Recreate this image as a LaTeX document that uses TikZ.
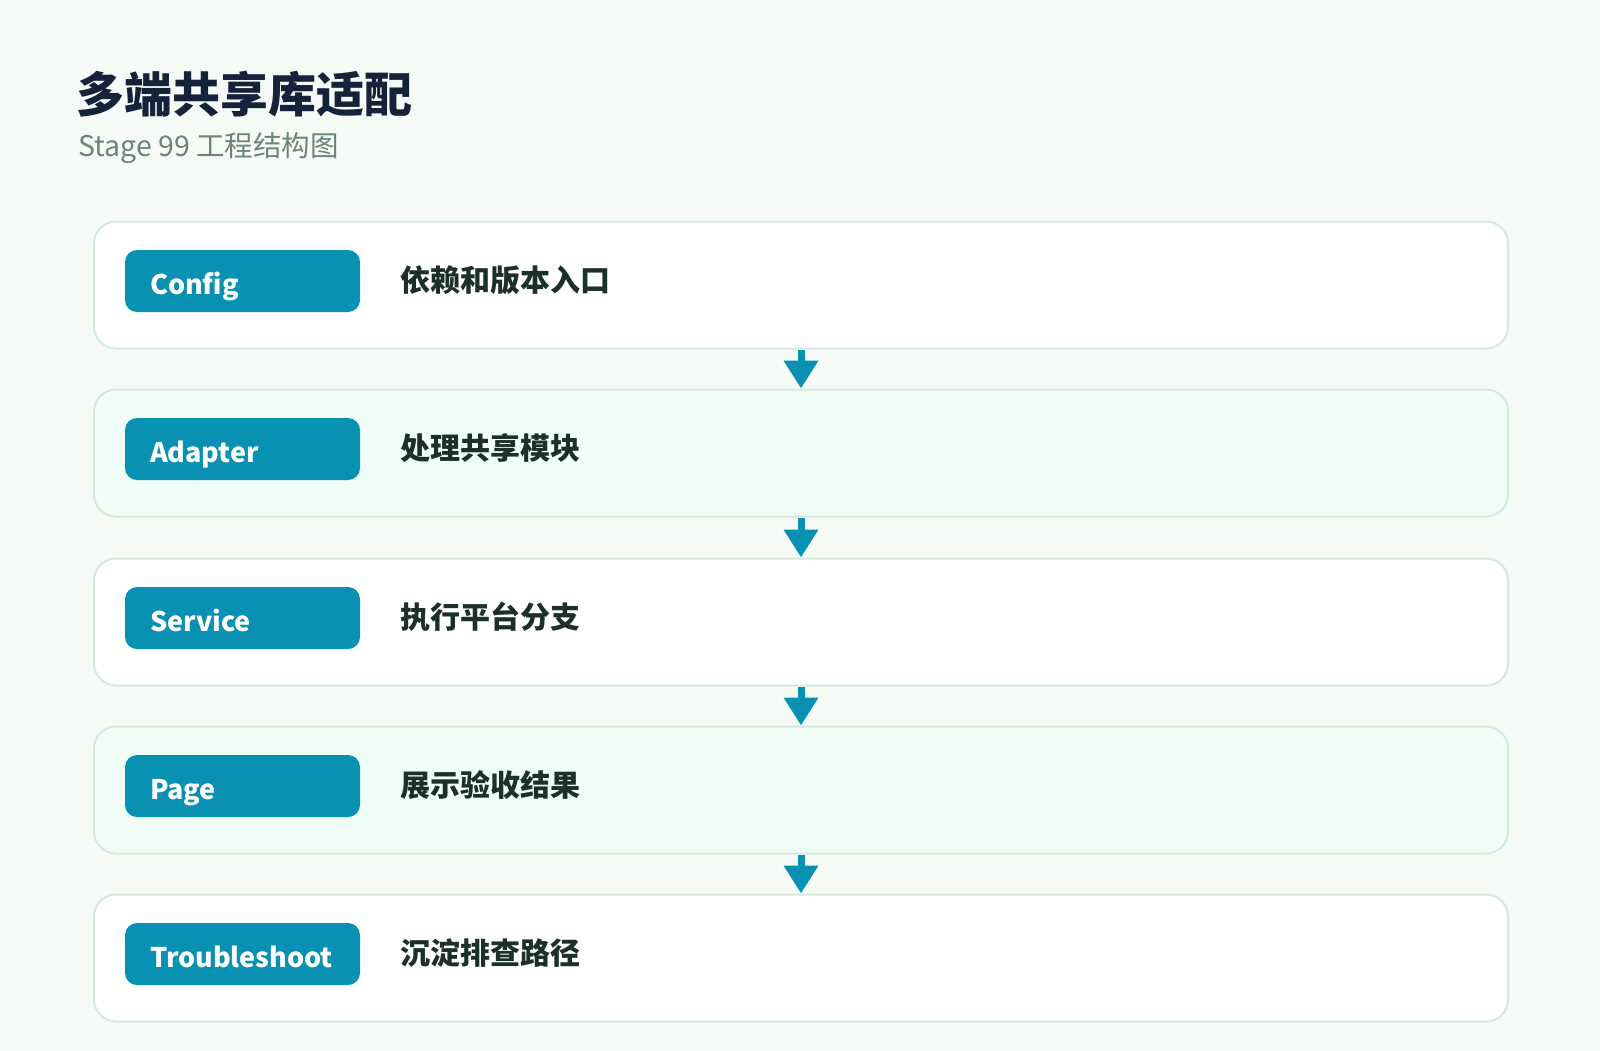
\documentclass[tikz,border=0pt]{standalone}
\usepackage{fontspec}
\setmainfont{Noto Sans CJK SC}
\usetikzlibrary{arrows.meta}
\definecolor{pagebg}{HTML}{F5FAF7}
\definecolor{boxline}{HTML}{D5EADF}
\definecolor{boxalt}{HTML}{F0FDF6}
\definecolor{badge}{HTML}{0891B2}
\definecolor{titlec}{HTML}{15233A}
\definecolor{subc}{HTML}{6B8579}
\definecolor{labelc}{HTML}{1B3028}
\tikzset{
  stagebox/.style={draw=boxline, line width=2pt, rounded corners=22pt,
    minimum width=1414pt, minimum height=127pt, inner sep=0pt},
  badgebox/.style={fill=badge, rounded corners=12pt, minimum width=235pt,
    minimum height=62pt, inner xsep=25pt, inner ysep=0pt, text width=185pt,
    text height=29pt, text depth=2pt,
    align=left, text=white, font=\fontsize{27}{32}\selectfont\bfseries},
  labeltext/.style={anchor=west, inner sep=0pt, text=labelc,
    font=\fontsize{30}{35}\selectfont\bfseries},
  flowarrow/.style={draw=badge, line width=7pt,
    -{Triangle[width=33pt,length=28pt]}}
}
\begin{document}
\begin{tikzpicture}[x=1pt,y=-1pt]
\fill[pagebg] (0,0) rectangle (1600,1050);
\useasboundingbox (0,0) rectangle (1600,1050);
\node[anchor=west, inner sep=0pt, text=titlec, font=\fontsize{48}{57}\selectfont\bfseries] (title) at (76,94) {多端共享库适配};
\node[anchor=west, inner sep=0pt, text=subc, font=\fontsize{28.5}{33}\selectfont] (subtitle) at (78,148.5) {Stage 99 工程结构图};

\node[stagebox, fill=white] (b1) at (801,285) {};
\node[stagebox, fill=boxalt] (b2) at (801,453) {};
\node[stagebox, fill=white] (b3) at (801,622) {};
\node[stagebox, fill=boxalt] (b4) at (801,790) {};
\node[stagebox, fill=white] (b5) at (801,958) {};

\node[badgebox] (t1) at (242.5,281) {Config};
\node[badgebox] (t2) at (242.5,449) {Adapter};
\node[badgebox] (t3) at (242.5,618) {Service};
\node[badgebox] (t4) at (242.5,786) {Page};
\node[badgebox] (t5) at (242.5,954) {Troubleshoot};

\node[labeltext] (l1) at (400,280) {依赖和版本入口};
\node[labeltext] (l2) at (400,448) {处理共享模块};
\node[labeltext] (l3) at (400,617) {执行平台分支};
\node[labeltext] (l4) at (400,785) {展示验收结果};
\node[labeltext] (l5) at (400,953) {沉淀排查路径};

\draw[flowarrow] (b1.south) -- (b2.north);
\draw[flowarrow] (b2.south) -- (b3.north);
\draw[flowarrow] (b3.south) -- (b4.north);
\draw[flowarrow] (b4.south) -- (b5.north);
\end{tikzpicture}
\end{document}
